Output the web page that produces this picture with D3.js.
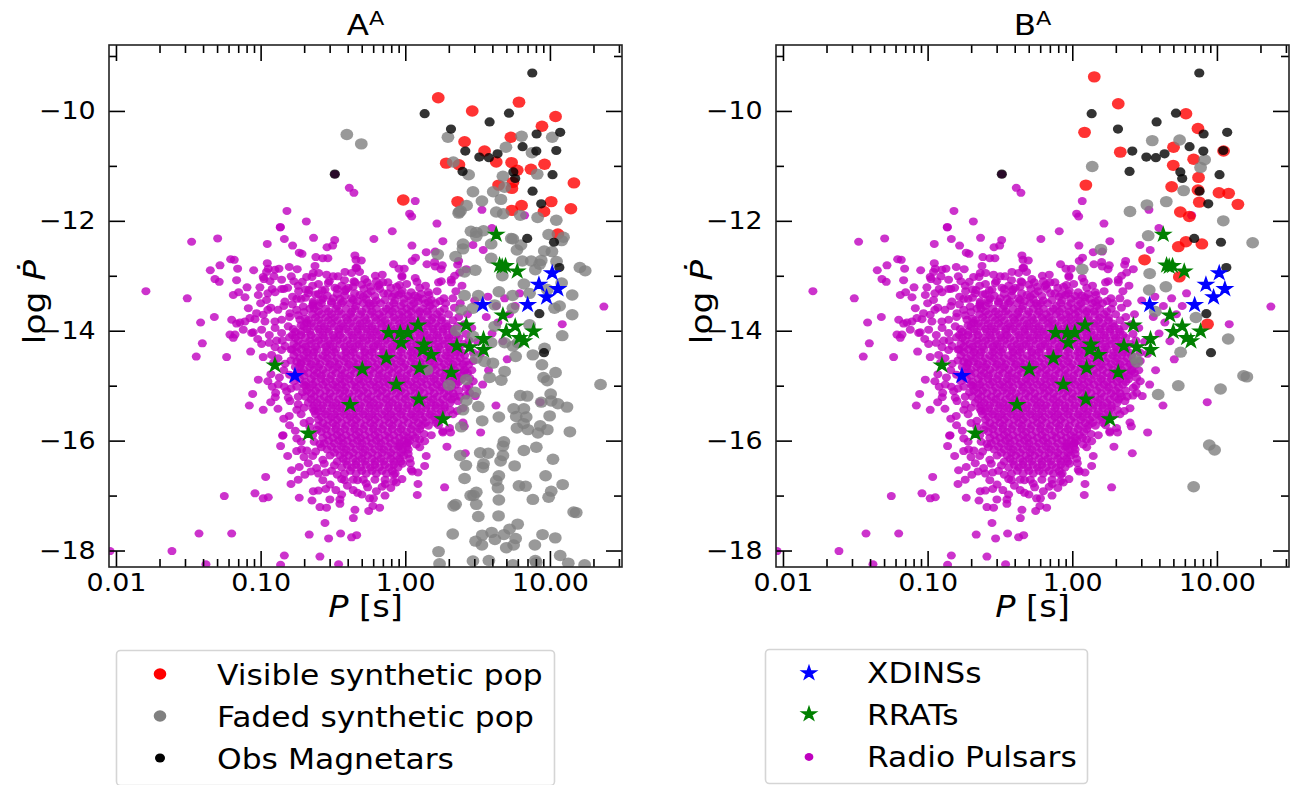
<!DOCTYPE html>
<html>
<head>
<meta charset="utf-8">
<script src="https://cdn.jsdelivr.net/npm/d3@7"></script>
<style>
body { margin: 0; background: #fff; overflow: hidden; }
text { font-family: "DejaVu Sans", sans-serif; fill: #000; }
</style>
</head>
<body>
<script>
// all points are [log10 P, log10 Pdot]
const magnetars = [[.878,-9.31],[.134,-10.05],[.583,-10.2],[.717,-10.04],[.316,-10.33],[1.071,-10.39],[.908,-10.42],[.811,-10.65],[.906,-10.73],[1.044,-10.72],[.415,-10.73],[.512,-10.84],[.578,-10.85],[.638,-10.78],[.396,-11.1],[.747,-11.11],[.76,-11.23],[1.018,-11.16],[.88,-11.46],[.94,-11.69],[.843,-12.32],[1.028,-12.39],[1.065,-12.85],[-.487,-11.15],[.927,-13.69],[.959,-14.4]];

const visibleA = [[.228,-9.76],[.786,-9.84],[.463,-10],[1.039,-10.1],[.945,-10.28],[.73,-10.48],[.41,-10.56],[.548,-10.73],[.283,-10.95],[.371,-10.98],[.629,-10.93],[.735,-10.94],[.774,-11.08],[.869,-11.06],[.963,-10.97],[1.166,-11.31],[.645,-11.35],[.744,-11.3],[.737,-11.41],[-.014,-11.62],[.362,-11.65],[1.009,-11.65],[.804,-11.72],[.737,-11.81],[.959,-11.83],[1.145,-11.78],[1.055,-12.24]];

const fadedA = [[-.404,-10.43],[-.304,-10.6],[.295,-10.48],[.804,-10.46],[1.016,-10.48],[.696,-10.66],[.876,-10.76],[.332,-10.93],[.438,-11.16],[.675,-11.19],[.912,-11.15],[.687,-11.39],[.468,-11.47],[.608,-11.47],[.661,-11.61],[.53,-11.64],[.424,-11.72],[.373,-11.84],[.369,-11.86],[.382,-11.82],[.629,-11.84],[.677,-11.87],[.795,-11.9],[.915,-11.94],[1.044,-11.99],[.454,-12.19],[.491,-12.21],[.491,-12.28],[.541,-12.18],[.733,-12.32],[.744,-12.33],[.991,-12.25],[1.094,-12.3],[1.081,-12.36],[.399,-12.42],[.399,-12.51],[.594,-12.42],[.8,-12.44],[.772,-12.53],[.961,-12.55],[1.014,-12.56],[.348,-12.65],[.224,-12.61],[.594,-12.68],[.809,-12.73],[.871,-12.73],[.94,-12.72],[.929,-12.79],[.899,-12.89],[1.046,-12.74],[1.207,-12.85],[1.244,-12.91],[.484,-12.9],[.41,-12.93],[.671,-13],[1.081,-13.13],[.82,-13.15],[.41,-13.36],[.505,-13.36],[.647,-13.29],[.742,-13.36],[.859,-13.32],[.982,-13.25],[1.154,-13.35],[.387,-13.62],[.468,-13.59],[.618,-13.53],[.744,-13.59],[1.032,-13.59],[1.067,-13.55],[1.154,-13.71],[.859,-13.89],[1.085,-14.09],[.353,-14],[.468,-14.1],[.618,-13.92],[.594,-14.22],[.744,-14.28],[.779,-14.22],[.687,-14.22],[.882,-14.44],[.963,-14.32],[.491,-14.5],[.548,-14.56],[.606,-14.59],[.763,-14.47],[.945,-14.62],[.687,-14.74],[.583,-14.85],[.664,-14.9],[.422,-14.89],[.15,-14.71],[.302,-14.99],[.956,-14.85],[.982,-14.91],[1.039,-14.76],[1.35,-14.98],[.482,-15.12],[.422,-15.27],[.399,-15.44],[.505,-15.38],[.795,-15.18],[.843,-15.19],[1.005,-15.15],[1.009,-15.28],[1.055,-15.33],[1.118,-15.39],[.94,-15.3],[.749,-15.42],[.82,-15.42],[.767,-15.56],[.836,-15.57],[.818,-15.69],[.647,-15.57],[.532,-15.64],[.772,-15.77],[.848,-15.8],[.933,-15.73],[.917,-15.86],[.982,-15.8],[.998,-15.55],[1.138,-15.84],[.387,-15.75],[.682,-16.02],[.675,-16.1],[.518,-16.22],[.574,-16.23],[.38,-16.27],[.82,-16.18],[.906,-16.12],[1.021,-16.34],[.675,-16.27],[.659,-16.37],[.541,-16.42],[.536,-16.49],[.419,-16.45],[.756,-16.46],[.41,-16.69],[.647,-16.64],[.97,-16.64],[.629,-16.73],[.641,-16.86],[.786,-16.82],[.832,-16.83],[1.088,-16.8],[1.009,-16.92],[.882,-17.07],[.991,-17.03],[.452,-17],[.491,-16.94],[.472,-17],[.647,-17.08],[.491,-17.16],[.348,-17.16],[.334,-17.19],[1.164,-17.3],[1.182,-17.31],[.505,-17.38],[.645,-17.37],[.328,-17.7],[.777,-17.52],[.721,-17.61],[.682,-17.71],[.597,-17.67],[.532,-17.72],[.486,-17.83],[.53,-17.9],[.62,-17.8],[.763,-17.78],[.749,-17.9],[.698,-17.95],[.949,-17.71],[1.037,-17.77],[.896,-17.9],[.23,-18.02],[1.071,-18.09],[.468,-18.19],[.578,-18.18],[.899,-18.18],[1.127,-18.23],[.237,-18.24],[1.24,-18.26],[.744,-18.26],[.906,-18.22]];

const visibleB = [[.152,-9.38],[.318,-9.87],[.085,-10.39],[.332,-10.75],[.786,-10.05],[.869,-10.32],[.7,-10.66],[.839,-10.88],[1.046,-10.73],[.698,-10.99],[.873,-11.21],[.687,-11.38],[.869,-11.44],[.094,-11.35],[1.014,-11.49],[1.081,-11.5],[.878,-11.66],[1.145,-11.7],[.747,-11.84],[.809,-11.92],[.786,-12.38],[.733,-12.47],[.896,-12.42],[.5,-12.71],[.74,-13.02],[.935,-13.88]];

const fadedB = [[.553,-10.54],[.742,-10.53],[.915,-10.89],[.887,-11.03],[.138,-11.01],[.77,-11.45],[.65,-11.65],[.516,-11.71],[.399,-11.83],[1.044,-12],[.525,-12.27],[1.247,-12.4],[.198,-12.52],[.069,-12.88],[.535,-12.96],[.532,-13.26],[.647,-13.2],[.574,-13.65],[.855,-13.76],[1.078,-14.15],[.749,-14.39],[.435,-14.5],[.447,-14.57],[1.184,-14.82],[1.207,-14.84],[.733,-15],[1.025,-15.06],[.594,-15.16],[.947,-16.08],[.984,-16.17],[.839,-16.84]];

const rrats = [[.629,-12.25],[.652,-12.81],[.693,-12.82],[.67,-12.83],[.774,-12.92],[.675,-13.72],[.422,-13.9],[.088,-13.9],[-.115,-14.04],[-.035,-14.04],[.018,-14.04],[-.028,-14.22],[.129,-14.25],[.122,-14.35],[.18,-14.44],[-.131,-14.5],[.357,-14.28],[.445,-14.3],[.541,-14.15],[.541,-14.35],[.698,-14.02],[.76,-13.92],[.79,-14.13],[.82,-14.19],[.887,-14.01],[.099,-14.68],[.318,-14.76],[-.062,-14.98],[.094,-15.25],[.26,-15.61],[-.901,-14.63],[-.382,-15.35],[-.297,-14.7],[-.67,-15.87]];

const xdins = [[1.016,-12.95],[.924,-13.16],[1.055,-13.24],[.977,-13.39],[.846,-13.53],[.535,-13.53],[-.763,-14.82]];

// sparse radio pulsars around the cloud
const pulsarsOuter = [[-.487,-11.15],[-.387,-11.4],[-.355,-11.49],[-.818,-11.82],[-.684,-12.01],[-.864,-12.12],[-.864,-12.11],[-1.477,-12.38],[-1.297,-12.32],[-.954,-12.42],[-.836,-12.33],[-.779,-12.45],[-.733,-12.58],[-.714,-12.6],[-.634,-12.31],[-.488,-12.35],[-.502,-12.45],[-.541,-12.48],[-.618,-12.66],[-.571,-12.68],[-.535,-12.68],[-.348,-12.63],[-.341,-12.71],[-.304,-12.72],[-1.207,-12.7],[-1.182,-12.71],[-1.281,-12.81],[-1.348,-12.9],[-1.159,-12.87],[-1.316,-13.06],[-1.286,-13.11],[-1.166,-13.08],[-1.048,-12.9],[-.954,-12.77],[-.947,-12.87],[-.873,-12.87],[-.802,-12.84],[-.747,-12.88],[-.959,-12.93],[-.901,-12.89],[-.624,-12.82],[-.636,-12.95],[-.599,-12.95],[-.682,-13.02],[-.645,-13.02],[-.417,-12.93],[-.371,-12.95],[-.336,-12.85],[-.341,-12.86],[-.316,-12.93],[-.544,-12.98],[-.498,-13.01],[-.465,-13.01],[-.982,-13.02],[-.977,-13.06],[-.935,-13.1],[-.908,-13.01],[-.855,-13.07],[-.788,-13.01],[-.348,-13.12],[-.355,-13.1],[-.532,-13.13],[-.525,-13.1],[-1.793,-13.28],[-1.507,-13.41],[-1.189,-13.35],[-1.152,-13.3],[-1.094,-13.21],[-1.108,-13.39],[-1.016,-13.35],[-1.005,-13.21],[-.855,-13.24],[-.839,-13.24],[-.813,-13.22],[-.779,-13.38],[-.737,-13.28],[-.689,-13.25],[-.666,-13.26],[-.671,-13.32],[-.712,-13.11],[-.574,-13.27],[-.555,-13.25],[-.486,-13.22],[-.47,-13.24],[-.41,-13.25],[-.394,-13.22],[-.417,-13.28],[-.286,-13.24],[-.263,-13.12],[-.959,-13.44],[-.832,-13.47],[-.636,-13.47],[-.567,-13.41],[-.498,-13.41],[-.452,-13.42],[-.371,-13.41],[-.313,-13.35],[-.29,-13.38],
[.069,-11.64],[.03,-11.87],[.044,-11.92],[.53,-11.8],[.825,-11.9],[.219,-12.05],[-.09,-12.19],[-.217,-12.33],[.599,-12.13],[.26,-12.37],[.046,-12.45],[.468,-12.44],[.539,-12.53],[.145,-12.57],[.207,-12.56],[.071,-12.67],[.048,-12.73],[-.081,-12.79],[.15,-12.79],[.203,-12.75],[.207,-12.83],[.256,-12.81],[.247,-12.88],[.369,-12.73],[.362,-12.8],[-.044,-12.87],[-.007,-12.87],[-.023,-13],[-.023,-13.02],[.422,-12.88],[.376,-12.94],[-.207,-13],[-.159,-12.98],[.069,-13.04],[.081,-13.11],[.23,-13.12],[.249,-13.1],[.318,-13.07],[.318,-13.12],[.341,-13],[.392,-13.18],[-.154,-13.12],[-.189,-13.19],[-.177,-13.24],[-.235,-13.28],[-.12,-13.32],[-.021,-13.27],[.041,-13.3],[-.074,-13.33],[-.046,-13.35],[.159,-13.3],[.164,-13.35],[.267,-13.41],[.329,-13.41],[.088,-13.39],[.065,-13.36],[.571,-13.38],[.79,-13.32],[.687,-13.41],
[1.373,-13.56],[1.085,-13.88],[.675,-14.19],[.705,-14.52],[.438,-14.62],[.576,-14.72],[.535,-14.98],[.484,-15.19],[.627,-15.36],[.933,-15.3],[.311,-15.44],[.399,-15.67],[.408,-15.74],[.521,-15.85],[.26,-15.85],[.313,-15.85],[.288,-16.11],[.415,-16.23],[.145,-16.28],[.134,-16.46],[.272,-16.85],[.088,-16.79],[.083,-16.99],[-.138,-16.79],[-.081,-16.74],[-.023,-16.7],[-.062,-16.76],[.03,-16.33],[.035,-16.41],[.048,-16.56],[.088,-16.58],[.041,-16.53],[-.039,-16.1],[.018,-16.04],[.076,-16.07],[.099,-15.98],[.134,-16.01],[-.177,-17.22],[-.224,-17.19],[-.253,-17.28],[-.247,-17.05],[.214,-15.68],[.26,-15.83],[.306,-15.77],[.364,-15.28],[.399,-15.41],[.445,-15.13],[.422,-15.04],[.445,-14.86],[.41,-14.74],[.47,-14.55],[.5,-14.2],[.46,-13.95],[.56,-13.75],[.43,-13.7],[.38,-13.5],[.48,-13.45],[.63,-13.55],[.72,-13.7],[.76,-13.55],[.64,-13.85],[.6,-14.05],[.52,-14.42],
[-1.415,-13.85],[-1.32,-13.75],[-1.403,-14.23],[-1.445,-14.47],[-1.235,-14.48],[-1.2,-13.8],[-1.166,-13.87],[-1.143,-13.85],[-1.108,-13.83],[-1.074,-13.77],[-1.039,-13.79],[-1.085,-13.59],[-1.028,-13.68],[-.982,-13.71],[-.97,-13.83],[-.901,-13.83],[-.855,-13.8],[-1.12,-13.98],[-1.051,-14.03],[-1.062,-14.04],[-1.212,-14.07],[-1.177,-14.07],[-1.189,-14.13],[-.993,-13.98],[-.993,-14.24],[-.94,-14.22],[-.889,-14.18],[-.855,-14.04],[-1.069,-14.38],[-.982,-14.48],[-.924,-14.44],[-.855,-14.35],[-.809,-13.92],[-.774,-13.97],[-.797,-13.68],[-.751,-13.62],[-.705,-13.56],[-.636,-13.5],[-.728,-13.8],[-.682,-13.86],[-1.016,-14.89],[-.929,-14.79],[-1.055,-15.15],[-1.078,-15.36],[-.982,-15.44],[-.896,-15.13],[-.899,-15.21],[-.878,-14.98],[-.836,-15.02],[-.82,-15.1],[-.809,-15.22],[-.797,-15.28],[-.802,-15.55],[-.848,-15.91],[-.845,-15.9],[-.862,-16.1],[-.813,-16.28],[-.751,-16.19],[-.717,-16.16],[-.786,-16.54],[-.733,-16.48],[-.671,-16.41],[-.965,-16.66],[-.79,-16.79],[-.74,-16.71],[-.694,-16.62],[-.652,-16.56],[-.613,-16.5],[-1.251,-17.01],[-1.039,-16.96],[-.982,-17.05],[-.947,-17.03],[-.733,-17.04],[-.645,-17.09],[-.636,-16.92],[-.601,-16.91],[-.59,-17.21],[-.544,-17.22],[-.521,-17.07],[-.452,-17.07],[-.452,-17.15],[-.348,-17.26],[-.359,-17.41],[-.555,-17.5],[-1.426,-17.69],[-1.2,-17.69],[-.664,-17.71],[-.53,-17.78],[-.447,-17.69],[-.371,-17.76],[-.336,-17.72],[-1.613,-18.01],[-2.041,-18.01],[-.836,-18.09],[-.59,-18.11],[-1.378,-18.25],[-.862,-18.26],[-.461,-18.25],
[-.83,-14.6],[-.79,-14.54],[-.76,-14.66],[-.72,-14.58],[-.75,-15.02],[-.71,-15.12],[-.69,-15],[-.72,-15.52],[-.7,-15.68],[-.66,-15.64],[-.63,-15.46],[-.63,-16.02],[-.59,-16.06],[-.62,-16.2],[-.57,-16.35],[-.49,-16.45],[-.51,-16.55],[-.47,-16.62],[-.42,-16.72],[-.4,-16.82],[-.52,-16.8],[-.48,-16.9],[-.36,-16.9],[-.3,-16.98],[-.26,-16.85],[-.2,-16.92],[-.14,-17]];

// more pulsars along the rough edge of the cloud
const pulsarsEdge = [[-.9,-13.3],[-.93,-13.58],[-.88,-13.62],[-.84,-13.55],[-.78,-13.52],[-.72,-13.42],[-.66,-13.6],[-.8,-13.75],[-.85,-14.18],[-.8,-14.12],[-.83,-14.28],[-.79,-14.34],[-.88,-14.5],[-.84,-14.72],[-.8,-14.8],[-.77,-14.92],[-.72,-14.75],[-.79,-15.05],[-.74,-15.2],[-.74,-15.34],[-.7,-15.4],[-.75,-15.44],[-.66,-15.75],[-.61,-15.8],[-.64,-15.9],[-.58,-16.12],[-.56,-16.42],[-.55,-16.58],[-.44,-16.7],[-.33,-16.72],[-.27,-16.78],[-.16,-16.84],[-.08,-16.62],[-.02,-16.42],[.02,-16.24],[.1,-16.12],[.13,-15.88],[.18,-15.9],[.23,-15.72],[.24,-15.6],[.28,-15.55],[.33,-15.52],[.36,-15.46],[.38,-15.2],[.42,-15.18],[.44,-15],[.47,-14.92],[.46,-14.72],[.47,-14.4],[.44,-14.18],[.42,-14.06],[.41,-13.88],[.37,-13.75],[.34,-13.58],[.28,-13.5],[.24,-13.46],[.18,-13.44],[.12,-13.42],[.35,-13.28],[.22,-13.28],[.1,-13.22],[.14,-13.18],[.01,-13.15],[-.06,-13.2],[-.12,-13.12],[-.2,-13.1],[-.28,-13.06],[-.42,-13.08],[-.6,-13.15],[-.64,-13.18],[-.74,-13.18],[-.77,-13.1],[-.92,-13.24],[-.95,-13.32],[-1,-13.5],[-.95,-13.62],[-.9,-13.95],[-.94,-14.08],[-.9,-14.3],[-1.02,-14.15],[-.91,-14.58],[-.87,-14.85],[-.95,-14.92],[-.92,-15.02],[-.93,-15.3],[-.88,-15.42],[-.84,-15.6],[-.8,-15.72],[-.76,-15.82],[-.75,-15.96],[-.72,-16.02],[-.7,-16.3],[-.68,-16.18],[-.64,-16.28],[-.6,-16.6],[-.57,-16.72],[-.55,-16.88],[-.44,-16.98],[-.33,-16.95],[-.22,-17.05],[-.1,-16.86],[-.36,-13.44],[-.25,-13.5]];

// the top of the cloud, above the solid part
const pulsarsTop = [[-.6,-13.33],[-.54,-13.36],[-.47,-13.33],[-.42,-13.36],[-.35,-13.32],[-.26,-13.33],[-.21,-13.37],[-.15,-13.32],[-.09,-13.38],[-.03,-13.32],[.02,-13.37],[.11,-13.33],[-.58,-13.44],[-.51,-13.47],[-.43,-13.47],[-.33,-13.46],[-.27,-13.43],[-.2,-13.45],[-.14,-13.44],[-.07,-13.45],[-.01,-13.42],[.04,-13.44],[.09,-13.47],[.16,-13.48],[-.44,-13.18],[-.36,-13.2],[-.3,-13.16],[-.24,-13.2],[-.18,-13.16],[-.1,-13.22],[-.04,-13.17],[-.62,-13.34],[-.69,-13.4],[-.75,-13.42],[-.64,-13.54],[-.7,-13.66],[-.74,-13.72],[-.69,-13.78],[-.72,-13.9],[-.76,-14.02],[-.78,-14.08]];

// the dense body of the cloud, one row per log Pdot value: [log Pdot, [log P, ...]]
const pulsarRows = [
[-13.5,[-.58,-.51,-.44,-.38,-.29,-.22,-.17,-.08,-.01,.06,.14,.21]],
[-13.6,[-.63,-.55,-.48,-.41,-.35,-.27,-.2,-.13,-.07,.01,.07,.12,.19,.27]],
[-13.7,[-.64,-.58,-.51,-.44,-.38,-.31,-.24,-.18,-.11,-.04,.02,.09,.16,.22,.3]],
[-13.81,[-.67,-.6,-.53,-.47,-.4,-.33,-.27,-.2,-.14,-.07,-.01,.05,.12,.18,.25,.33]],
[-13.92,[-.7,-.63,-.56,-.49,-.43,-.36,-.3,-.23,-.16,-.1,-.03,.03,.09,.16,.23,.29,.36]],
[-14.02,[-.72,-.66,-.59,-.53,-.46,-.39,-.33,-.26,-.2,-.13,-.06,0,.07,.13,.2,.26,.33]],
[-14.13,[-.76,-.69,-.62,-.56,-.49,-.43,-.36,-.29,-.23,-.16,-.1,-.03,.04,.1,.17,.23,.3,.37]],
[-14.24,[-.77,-.71,-.65,-.58,-.52,-.45,-.38,-.32,-.25,-.19,-.12,-.06,.01,.08,.14,.21,.27,.34,.4]],
[-14.34,[-.78,-.72,-.67,-.61,-.54,-.48,-.41,-.35,-.28,-.22,-.15,-.09,-.02,.05,.11,.18,.24,.31,.37]],
[-14.45,[-.77,-.7,-.64,-.57,-.51,-.44,-.38,-.31,-.25,-.18,-.12,-.05,.02,.08,.15,.21,.28,.34,.41]],
[-14.56,[-.75,-.68,-.62,-.55,-.49,-.42,-.36,-.29,-.23,-.16,-.1,-.03,.04,.1,.17,.23,.3,.36,.42]],
[-14.66,[-.73,-.66,-.6,-.53,-.47,-.4,-.34,-.27,-.21,-.14,-.08,-.01,.06,.12,.19,.25,.32,.38]],
[-14.77,[-.74,-.67,-.61,-.55,-.48,-.42,-.35,-.29,-.22,-.16,-.09,-.03,.04,.1,.17,.24,.3,.36,.43]],
[-14.88,[-.73,-.65,-.58,-.52,-.45,-.39,-.32,-.26,-.19,-.13,-.06,0,.07,.13,.2,.27,.33,.39]],
[-14.98,[-.7,-.64,-.57,-.5,-.44,-.37,-.31,-.24,-.18,-.11,-.05,.02,.08,.15,.22,.28,.35]],
[-15.09,[-.68,-.62,-.55,-.48,-.42,-.35,-.29,-.22,-.16,-.09,-.03,.04,.1,.17,.24,.3,.37]],
[-15.2,[-.69,-.63,-.56,-.5,-.43,-.37,-.3,-.24,-.17,-.11,-.04,.02,.09,.16,.22,.29,.34]],
[-15.31,[-.67,-.61,-.54,-.48,-.41,-.35,-.28,-.22,-.15,-.09,-.02,.05,.11,.18,.24,.31]],
[-15.41,[-.64,-.58,-.51,-.45,-.38,-.32,-.25,-.19,-.12,-.05,.01,.08,.14,.21,.27]],
[-15.52,[-.62,-.55,-.49,-.42,-.36,-.29,-.23,-.16,-.1,-.03,.04,.1,.17,.23]],
[-15.62,[-.6,-.53,-.47,-.4,-.34,-.27,-.21,-.14,-.08,-.01,.06,.12,.19]],
[-15.73,[-.6,-.54,-.48,-.41,-.35,-.28,-.22,-.15,-.09,-.02,.05,.11,.16]],
[-15.84,[-.58,-.51,-.45,-.38,-.32,-.25,-.19,-.12,-.05,.01,.08]],
[-15.95,[-.57,-.5,-.44,-.37,-.31,-.24,-.18,-.11,-.04,.02,.07]],
[-16.05,[-.56,-.49,-.43,-.36,-.3,-.23,-.17,-.1,-.04,.01]],
[-16.16,[-.54,-.47,-.41,-.34,-.28,-.21,-.15,-.08,-.02,.02]],
[-16.27,[-.52,-.45,-.39,-.32,-.26,-.19,-.12,-.06,-.01]],
[-16.38,[-.47,-.41,-.34,-.28,-.21,-.15,-.08,-.03]],
[-16.49,[-.44,-.37,-.31,-.24,-.18,-.11,-.05]],
[-16.6,[-.42,-.34,-.27,-.2,-.13,-.07]],
[-16.71,[-.36,-.29,-.21,-.14]]
];

// second pass over the same body, in between the first rows
const pulsarRowsMid = [
[-13.55,[-.6,-.47,-.34,-.24,-.11,-.03,.04,.17]],
[-13.65,[-.6,-.53,-.46,-.37,-.3,-.23,-.15,-.09,-.02,.04,.1,.15,.24]],
[-13.76,[-.62,-.55,-.49,-.41,-.36,-.28,-.21,-.16,-.08,-.02,.04,.11,.19,.25]],
[-13.87,[-.65,-.58,-.51,-.44,-.38,-.31,-.25,-.17,-.12,-.04,.02,.08,.15,.21,.28]],
[-13.97,[-.68,-.6,-.54,-.46,-.41,-.33,-.27,-.21,-.13,-.07,0,.06,.11,.19,.26,.32]],
[-14.08,[-.72,-.65,-.57,-.5,-.45,-.37,-.31,-.24,-.18,-.11,-.05,.02,.1,.15,.22,.29,.35]],
[-14.18,[-.74,-.66,-.6,-.53,-.47,-.4,-.33,-.27,-.2,-.14,-.07,0,.06,.13,.19,.26,.32]],
[-14.29,[-.75,-.69,-.62,-.55,-.5,-.42,-.36,-.3,-.22,-.17,-.09,-.04,.04,.1,.16,.23,.3,.36]],
[-14.39,[-.75,-.68,-.63,-.55,-.49,-.41,-.36,-.28,-.23,-.15,-.1,-.03,.04,.09,.17,.22,.29,.35,.39]],
[-14.5,[-.73,-.67,-.6,-.54,-.47,-.41,-.34,-.28,-.21,-.14,-.08,-.02,.05,.12,.18,.25,.31,.38]],
[-14.61,[-.72,-.65,-.59,-.52,-.46,-.39,-.33,-.26,-.19,-.13,-.06,0,.07,.14,.2,.27,.33,.4]],
[-14.71,[-.7,-.63,-.57,-.5,-.44,-.37,-.31,-.24,-.18,-.11,-.05,.02,.09,.15,.21,.28,.34,.41]],
[-14.82,[-.7,-.63,-.58,-.51,-.44,-.38,-.31,-.25,-.18,-.12,-.05,.01,.08,.15,.21,.27,.34,.39]],
[-14.93,[-.69,-.62,-.55,-.48,-.42,-.35,-.29,-.22,-.15,-.09,-.02,.04,.11,.18,.24,.31,.37]],
[-15.03,[-.66,-.6,-.53,-.47,-.41,-.34,-.27,-.2,-.14,-.07,-.01,.06,.12,.19,.25,.32]],
[-15.14,[-.65,-.59,-.52,-.45,-.39,-.32,-.26,-.19,-.13,-.06,0,.07,.13,.2,.27,.33]],
[-15.25,[-.65,-.59,-.53,-.46,-.4,-.33,-.26,-.2,-.13,-.07,0,.07,.13,.19,.26,.32]],
[-15.36,[-.63,-.57,-.5,-.44,-.37,-.31,-.24,-.18,-.11,-.05,.02,.08,.15,.21,.27]],
[-15.47,[-.6,-.54,-.47,-.41,-.34,-.28,-.21,-.14,-.08,-.02,.05,.11,.18,.25]],
[-15.57,[-.58,-.51,-.45,-.38,-.32,-.25,-.19,-.12,-.06,.01,.07,.14,.2]],
[-15.68,[-.57,-.5,-.44,-.37,-.31,-.24,-.18,-.11,-.05,.02,.09,.14]],
[-15.79,[-.55,-.48,-.42,-.35,-.29,-.22,-.16,-.09,-.03,.04,.1]],
[-15.9,[-.54,-.47,-.41,-.34,-.28,-.21,-.14,-.08,-.01,.05]],
[-16,[-.53,-.46,-.4,-.33,-.27,-.2,-.14,-.07,-.01,.03]],
[-16.11,[-.51,-.44,-.38,-.31,-.25,-.18,-.12,-.05,.01]],
[-16.22,[-.49,-.42,-.36,-.29,-.23,-.16,-.1,-.03]],
[-16.33,[-.43,-.36,-.3,-.23,-.17,-.1,-.04]],
[-16.44,[-.4,-.34,-.27,-.21,-.14,-.08]],
[-16.55,[-.38,-.3,-.23,-.16,-.09]]
];

const xMajor = [0.01, 0.1, 1, 10];
const xLabels = ["0.01", "0.10", "1.00", "10.00"];
const xMinor = [0.02,0.03,0.04,0.05,0.06,0.07,0.08,0.09,0.2,0.3,0.4,0.5,0.6,0.7,0.8,0.9,2,3,4,5,6,7,8,9,20,30];
const yMajor = [-10, -12, -14, -16, -18];
const yMinor = [-9, -11, -13, -15, -17];
const legendLeft = ["Visible synthetic pop", "Faded synthetic pop", "Obs Magnetars"];
const legendRight = ["XDINSs", "RRATs", "Radio Pulsars"];

const textStretch = 1.12;
const rowPoints = (rows) => rows.flatMap((row) => row[1].map((p) => [p, row[0]]));
const pulsars = pulsarsOuter.concat(pulsarsEdge, pulsarsTop, rowPoints(pulsarRows), rowPoints(pulsarRowsMid));

const svg = d3.select("body").append("svg").attr("width", 1295).attr("height", 785);

function dots(g, items, x, y, color, rx, ry) {
    g.selectAll(null).data(items).enter().append("ellipse")
        .attr("cx", (d) => x(Math.pow(10, d[0])))
        .attr("cy", (d) => y(d[1]))
        .attr("rx", rx)
        .attr("ry", ry)
        .attr("fill", color)
        .attr("fill-opacity", 0.8);
}

function stars(g, items, x, y, color) {
    const star = d3.symbol().type(d3.symbolStar).size(52);
    g.selectAll(null).data(items).enter().append("path")
        .attr("d", star)
        .attr("transform", (d) => "translate(" + x(Math.pow(10, d[0])) + "," + y(d[1]) + ") scale(1.08,1)")
        .attr("fill", color)
        .attr("stroke", color)
        .attr("stroke-width", 1.5);
}

function styleAxis(g) {
    g.select(".domain").remove();
    g.selectAll("line").attr("stroke", "#000").attr("stroke-width", 1.6);
}

function renderAxes(panel, x, y, width, height) {
    const bottomMajor = d3.axisBottom(x).tickValues(xMajor).tickSize(-16).tickPadding(7)
        .tickFormat((d, i) => xLabels[i]);
    const gx = panel.append("g").attr("transform", "translate(0," + height + ")").call(bottomMajor);
    gx.selectAll("text").style("font-size", "24px").attr("transform", "scale(" + textStretch + ",1)");
    styleAxis(gx);
    styleAxis(panel.append("g").attr("transform", "translate(0," + height + ")")
        .call(d3.axisBottom(x).tickValues(xMinor).tickSize(-8).tickFormat("")));
    styleAxis(panel.append("g").call(d3.axisTop(x).tickValues(xMajor).tickSize(-16).tickFormat("")));
    styleAxis(panel.append("g").call(d3.axisTop(x).tickValues(xMinor).tickSize(-8).tickFormat("")));

    const gy = panel.append("g").call(d3.axisLeft(y).tickValues(yMajor).tickSize(-16).tickPadding(12)
        .tickFormat((d) => "\u2212" + Math.abs(d)));
    gy.selectAll("text").style("font-size", "24px").attr("transform", "scale(" + textStretch + ",1)");
    styleAxis(gy);
    styleAxis(panel.append("g").call(d3.axisLeft(y).tickValues(yMinor).tickSize(-8).tickFormat("")));
    styleAxis(panel.append("g").attr("transform", "translate(" + width + ",0)")
        .call(d3.axisRight(y).tickValues(yMajor).tickSize(-16).tickFormat("")));
    styleAxis(panel.append("g").attr("transform", "translate(" + width + ",0)")
        .call(d3.axisRight(y).tickValues(yMinor).tickSize(-8).tickFormat("")));

    panel.append("rect").attr("width", width).attr("height", height)
        .attr("fill", "none").attr("stroke", "#222").attr("stroke-width", 1.6);
}

function renderPanel(id, left, title, visible, faded) {
    const top = 45, width = 513, height = 522;
    const panel = svg.append("g").attr("transform", "translate(" + left + "," + top + ")");
    const x = d3.scaleLog().domain([0.00895, 31.5]).range([0, width]);
    const y = d3.scaleLinear().domain([-8.8, -18.3]).range([0, height]);

    panel.append("clipPath").attr("id", id).append("rect").attr("width", width).attr("height", height);
    const marks = panel.append("g").attr("clip-path", "url(#" + id + ")");
    dots(marks, pulsars, x, y, "#bf00bf", 4.5, 4);
    dots(marks, visible, x, y, "#ff0000", 6.4, 5.7);
    dots(marks, faded, x, y, "#808080", 6.4, 5.7);
    dots(marks, magnetars, x, y, "#000", 5.1, 4.6);
    stars(marks, rrats, x, y, "#008000");
    stars(marks, xdins, x, y, "#0000ff");

    renderAxes(panel, x, y, width, height);

    const t = panel.append("text").attr("transform", "translate(" + (width / 2) + ",-10) scale(" + textStretch + ",1)")
        .attr("text-anchor", "middle").style("font-size", "29px").text(title);
    t.append("tspan").attr("dy", -10).style("font-size", "20px").text("A");

    panel.append("text").attr("transform", "translate(" + (width / 2) + ",572) scale(" + textStretch + ",1)")
        .attr("text-anchor", "middle").style("font-size", "30px")
        .html('<tspan font-style="italic">P</tspan> [s]');
    panel.append("text").attr("transform", "translate(-64," + (height / 2 - 4) + ") rotate(-90) scale(1.15,1)")
        .attr("text-anchor", "middle").style("font-size", "30px")
        .html('log <tspan font-style="italic">\u1E56</tspan>');
}

function legendBox(x, y, w, h) {
    svg.append("rect").attr("x", x).attr("y", y).attr("width", w).attr("height", h).attr("rx", 4)
        .attr("fill", "#fff").attr("stroke", "#d5d5d5").attr("stroke-width", 1.6);
}

function legendText(x, y, label) {
    svg.append("text").attr("transform", "translate(" + x + "," + y + ") scale(1.12,1)")
        .style("font-size", "28px").text(label);
}

renderPanel("clipA", 109, "A", visibleA, fadedA);
renderPanel("clipB", 776, "B", visibleB, fadedB);

legendBox(116.5, 650.5, 438, 135);
const leftRows = [{c: "#ff0000", rx: 6.3, ry: 5.7, my: 674, ty: 685},
    {c: "#808080", rx: 6.3, ry: 5.7, my: 716, ty: 727},
    {c: "#000", rx: 5, ry: 4.5, my: 758, ty: 769}];
leftRows.forEach((r, i) => {
    svg.append("ellipse").attr("cx", 160).attr("cy", r.my).attr("rx", r.rx).attr("ry", r.ry).attr("fill", r.c);
    legendText(217, r.ty, legendLeft[i]);
});

legendBox(765.5, 649.5, 322, 134);
[["#0000ff", 673, 683], ["#008000", 714, 725]].forEach((r, i) => {
    svg.append("path").attr("d", d3.symbol().type(d3.symbolStar).size(52))
        .attr("transform", "translate(809," + r[1] + ") scale(1.08,1)")
        .attr("fill", r[0]).attr("stroke", r[0]).attr("stroke-width", 1.5);
    legendText(867, r[2], legendRight[i]);
});
svg.append("ellipse").attr("cx", 809).attr("cy", 757).attr("rx", 4.4).attr("ry", 3.9).attr("fill", "#bf00bf");
legendText(867, 767, legendRight[2]);
</script>
</body>
</html>
